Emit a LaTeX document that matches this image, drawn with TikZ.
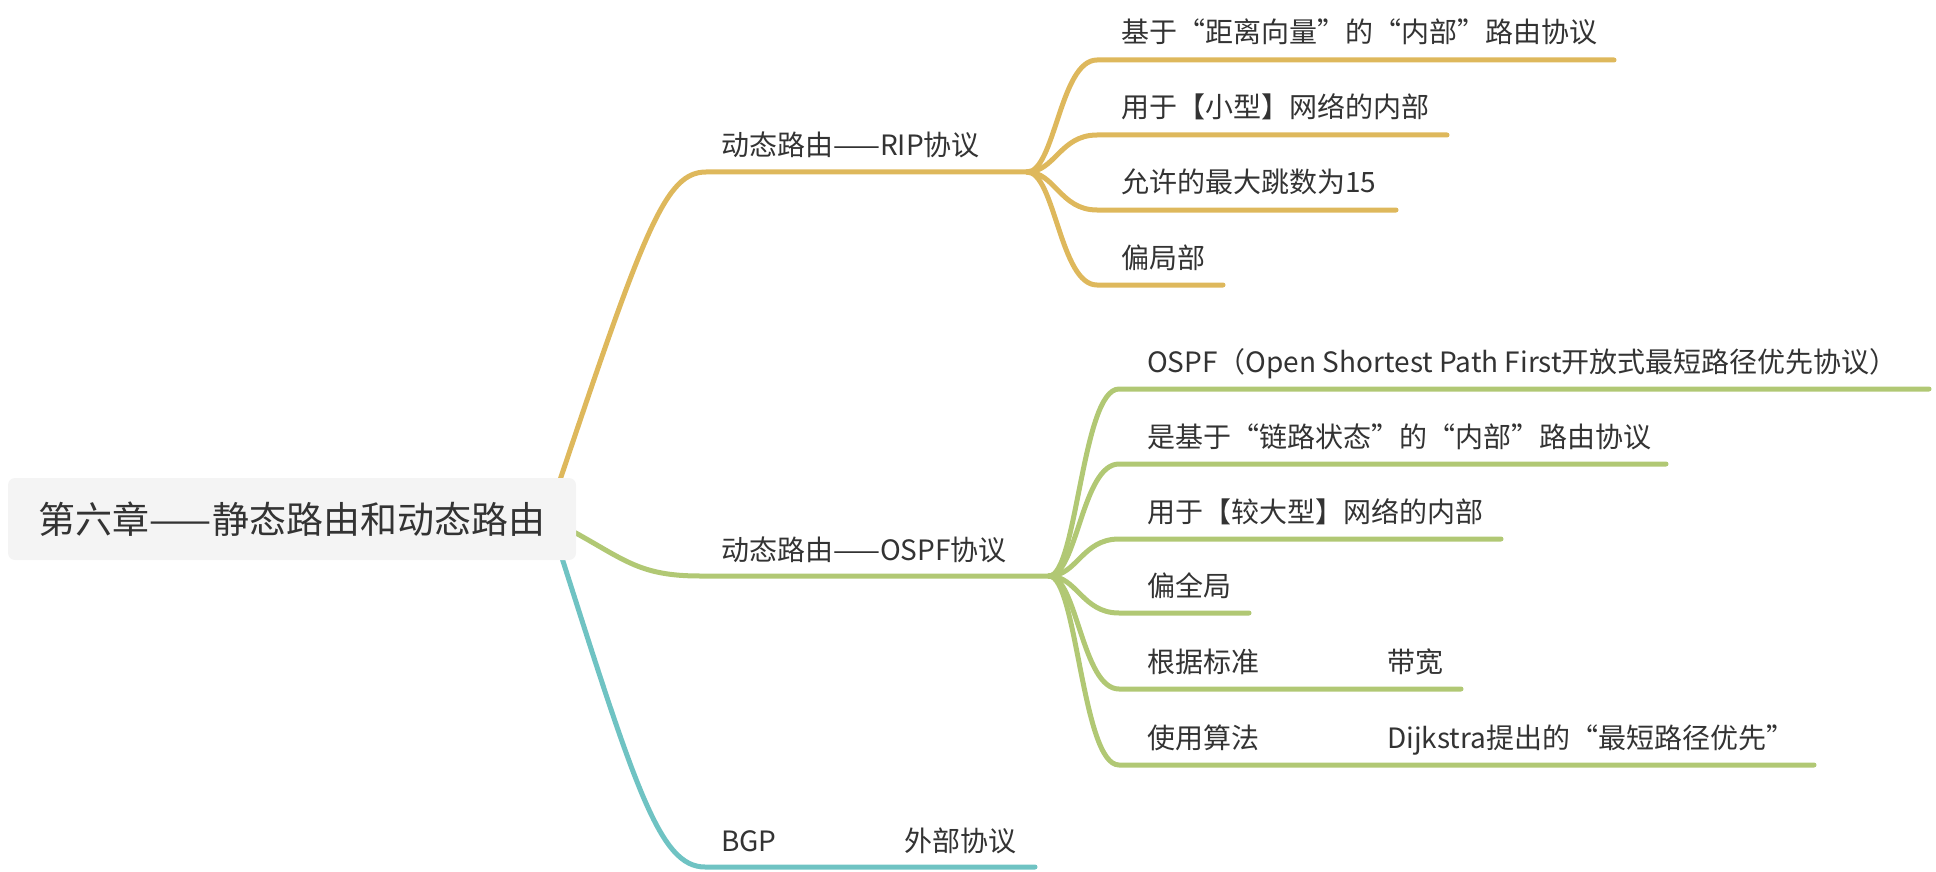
\documentclass[tikz,border=0pt]{standalone}
\usepackage{fontspec}
\setmainfont{Noto Sans CJK SC}
\definecolor{cy}{HTML}{DEB85C}
\definecolor{cg}{HTML}{B1C874}
\definecolor{ct}{HTML}{6FC3C3}
\definecolor{tx}{HTML}{333333}
\definecolor{rootfill}{HTML}{F4F4F4}
\begin{document}
\begin{tikzpicture}[x=1pt,y=-1pt,
  txt/.style={font=\fontsize{28}{32}\selectfont, text=tx, anchor=base west, inner sep=0pt},
  rootbox/.style={fill=rootfill, rounded corners=7pt, minimum width=568pt, minimum height=82pt, inner sep=0pt, text=tx, font=\fontsize{37}{42}\selectfont},
  yl/.style={draw=cy, line width=5pt, line cap=round},
  gl/.style={draw=cg, line width=5pt, line cap=round},
  tl/.style={draw=ct, line width=5pt, line cap=round}]
\useasboundingbox (0,0) rectangle (1936,872);

% connectors from root (drawn first, under the box)
\coordinate (rip-in) at (560,480);
\coordinate (rip-s) at (706,172);
\coordinate (rip-f) at (1027,172);
\coordinate (ospf-in) at (574,532);
\coordinate (ospf-s) at (700,576);
\coordinate (ospf-f) at (1049,576);
\coordinate (bgp-in) at (562,558);
\coordinate (bgp-s) at (705,867);
\coordinate (bgp-e) at (1035,867);

\draw[yl] (rip-in) .. controls (645,227) and (666,172) .. (rip-s) -- (rip-f);
\draw[gl] (ospf-in) .. controls (625,560) and (640,576) .. (ospf-s) -- (ospf-f);
\draw[tl] (bgp-in) .. controls (636,790) and (660,867) .. (bgp-s) -- (bgp-e);

\node[rootbox] (root) at (292,519) {第六章——静态路由和动态路由};

% branch labels
\node[txt] (rip) at (721,156) {动态路由——RIP协议};
\node[txt] (ospf) at (721,560) {动态路由——OSPF协议};
\node[txt] (bgp) at (721,851) {BGP};
\node[txt] (bgp2) at (904,851) {外部协议};

% RIP children
\coordinate (r1s) at (1097,60);  \coordinate (r1e) at (1614,60);
\coordinate (r2s) at (1097,135); \coordinate (r2e) at (1447,135);
\coordinate (r3s) at (1097,210); \coordinate (r3e) at (1396,210);
\coordinate (r4s) at (1097,285); \coordinate (r4e) at (1223,285);
\draw[yl] (rip-f) .. controls (1055,172) and (1060,60) .. (r1s) -- (r1e);
\draw[yl] (rip-f) .. controls (1055,172) and (1060,135) .. (r2s) -- (r2e);
\draw[yl] (rip-f) .. controls (1055,172) and (1060,210) .. (r3s) -- (r3e);
\draw[yl] (rip-f) .. controls (1055,172) and (1060,285) .. (r4s) -- (r4e);
\node[txt] (r1) at (1121,43) {基于“距离向量”的“内部”路由协议};
\node[txt] (r2) at (1121,118) {用于【小型】网络的内部};
\node[txt] (r3) at (1121,193) {允许的最大跳数为15};
\node[txt] (r4) at (1121,268) {偏局部};

% OSPF children
\coordinate (o1s) at (1119,389); \coordinate (o1e) at (1929,389);
\coordinate (o2s) at (1119,464); \coordinate (o2e) at (1666,464);
\coordinate (o3s) at (1119,539); \coordinate (o3e) at (1501,539);
\coordinate (o4s) at (1119,613); \coordinate (o4e) at (1249,613);
\coordinate (o5s) at (1119,689); \coordinate (o5e) at (1461,689);
\coordinate (o6s) at (1119,765); \coordinate (o6e) at (1814,765);
\draw[gl] (ospf-f) .. controls (1077,576) and (1082,389) .. (o1s) -- (o1e);
\draw[gl] (ospf-f) .. controls (1077,576) and (1082,464) .. (o2s) -- (o2e);
\draw[gl] (ospf-f) .. controls (1077,576) and (1082,539) .. (o3s) -- (o3e);
\draw[gl] (ospf-f) .. controls (1077,576) and (1082,613) .. (o4s) -- (o4e);
\draw[gl] (ospf-f) .. controls (1077,576) and (1082,689) .. (o5s) -- (o5e);
\draw[gl] (ospf-f) .. controls (1077,576) and (1082,765) .. (o6s) -- (o6e);
\node[txt] (o1) at (1147,372) {OSPF（Open Shortest Path First开放式最短路径优先协议）};
\node[txt] (o2) at (1147,447) {是基于“链路状态”的“内部”路由协议};
\node[txt] (o3) at (1147,522) {用于【较大型】网络的内部};
\node[txt] (o4) at (1147,596) {偏全局};
\node[txt] (o5) at (1147,672) {根据标准};
\node[txt] (o5b) at (1387,672) {带宽};
\node[txt] (o6) at (1147,748) {使用算法};
\node[txt] (o6b) at (1387,748) {Dijkstra提出的“最短路径优先”};
\end{tikzpicture}
\end{document}
